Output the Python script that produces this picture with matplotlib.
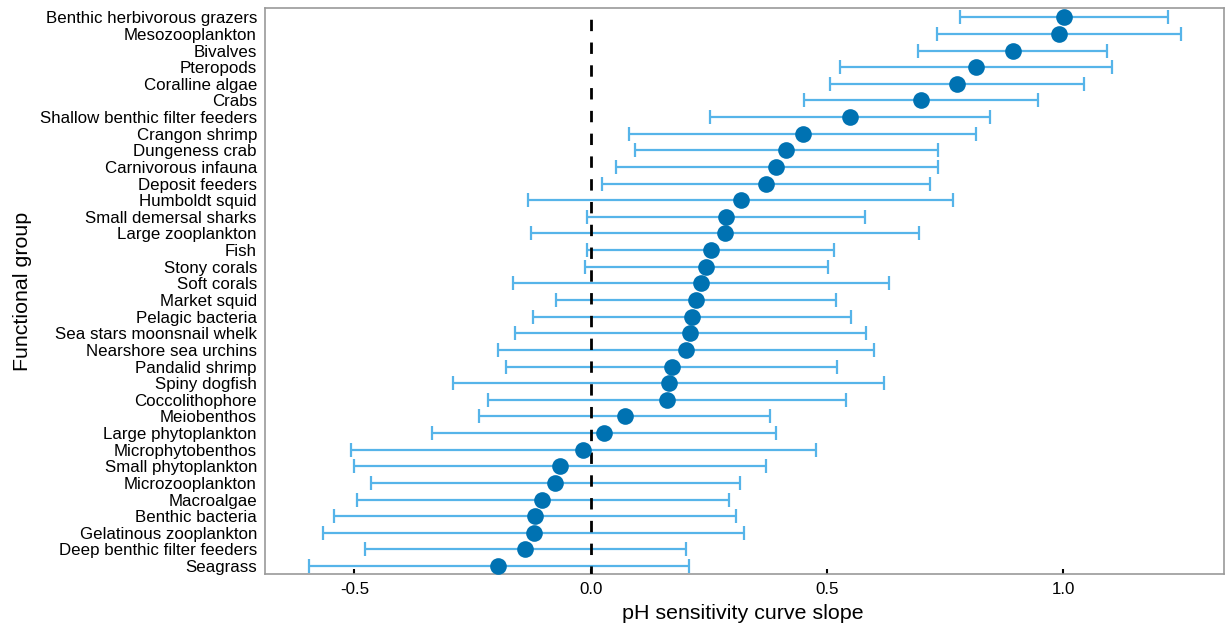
import matplotlib
matplotlib.use("Agg")
import matplotlib.pyplot as plt
import numpy as np

plt.rcParams['font.family'] = ['Liberation Sans', 'DejaVu Sans']

groups = [
    "Benthic herbivorous grazers", "Mesozooplankton", "Bivalves", "Pteropods",
    "Coralline algae", "Crabs", "Shallow benthic filter feeders", "Crangon shrimp",
    "Dungeness crab", "Carnivorous infauna", "Deposit feeders", "Humboldt squid",
    "Small demersal sharks", "Large zooplankton", "Fish", "Stony corals",
    "Soft corals", "Market squid", "Pelagic bacteria", "Sea stars moonsnail whelk",
    "Nearshore sea urchins", "Pandalid shrimp", "Spiny dogfish", "Coccolithophore",
    "Meiobenthos", "Large phytoplankton", "Microphytobenthos", "Small phytoplankton",
    "Microzooplankton", "Macroalgae", "Benthic bacteria", "Gelatinous zooplankton",
    "Deep benthic filter feeders", "Seagrass",
]
slope = [1.002, 0.991, 0.893, 0.816, 0.775, 0.699, 0.549, 0.449,
         0.414, 0.393, 0.371, 0.318, 0.286, 0.284, 0.254, 0.245,
         0.233, 0.222, 0.215, 0.211, 0.201, 0.172, 0.165, 0.162,
         0.072, 0.029, -0.016, -0.065, -0.075, -0.102, -0.117, -0.119,
         -0.139, -0.195]
lower = [0.782, 0.733, 0.693, 0.527, 0.506, 0.451, 0.252, 0.082,
         0.094, 0.053, 0.024, -0.132, -0.008, -0.127, -0.007, -0.011,
         -0.164, -0.073, -0.121, -0.160, -0.196, -0.179, -0.291, -0.217,
         -0.236, -0.336, -0.508, -0.501, -0.465, -0.495, -0.544, -0.566,
         -0.477, -0.596]
upper = [1.222, 1.250, 1.093, 1.104, 1.043, 0.947, 0.845, 0.816,
         0.734, 0.734, 0.718, 0.767, 0.581, 0.695, 0.515, 0.502,
         0.631, 0.520, 0.551, 0.583, 0.599, 0.522, 0.621, 0.541,
         0.379, 0.393, 0.477, 0.371, 0.316, 0.292, 0.308, 0.324,
         0.201, 0.208]
xticks = [-0.5, 0.0, 0.5, 1.0]
xtick_labels = ["-0.5", "0.0", "0.5", "1.0"]

slope = np.array(slope)
lower = np.array(lower)
upper = np.array(upper)
ypos = np.arange(len(groups))

fig = plt.figure(figsize=(12.3, 6.28), dpi=100)
ax = fig.add_axes([265/1230, 1 - 574/628, (1224-265)/1230, (574-7.7)/628])

ytop, ybot = -0.58, len(groups) - 1 + 0.48

ax.errorbar(slope, ypos, xerr=[slope - lower, upper - slope], fmt='none',
            ecolor='#56B4E9', elinewidth=1.6, capsize=5, capthick=1.6, zorder=2)
ax.plot([0, 0], [ytop, ybot], color='black', lw=2.0,
        ls=(4.15, (4.1, 4.1)), zorder=3, dash_capstyle='butt')
ax.plot(slope, ypos, 'o', color='#0072B2', markersize=12, markeredgewidth=0, zorder=4)

ax.set_xlim(-0.689, 1.340)
ax.set_ylim(ybot, ytop)
ax.set_yticks(ypos)
ax.set_yticklabels(groups, fontsize=12.2, color='black')
ax.set_xticks(xticks)
ax.set_xticklabels(xtick_labels, fontsize=12.2, color='black')
ax.tick_params(axis='y', length=0, pad=5.8)
ax.tick_params(axis='x', direction='in', length=3.6, width=1.5, color='black', pad=6)

for sp in ax.spines.values():
    sp.set_color('#9a9a9a')
    sp.set_linewidth(1.2)

fig.text(743/1230, (628 - 619)/628, "pH sensitivity curve slope", ha='center',
         va='baseline', fontsize=15.4)
fig.text(23/1230, 1 - 291/628, "Functional group", ha='center', va='center',
         rotation=90, fontsize=15.4)

fig.savefig("out.png", dpi=100, facecolor='white')
